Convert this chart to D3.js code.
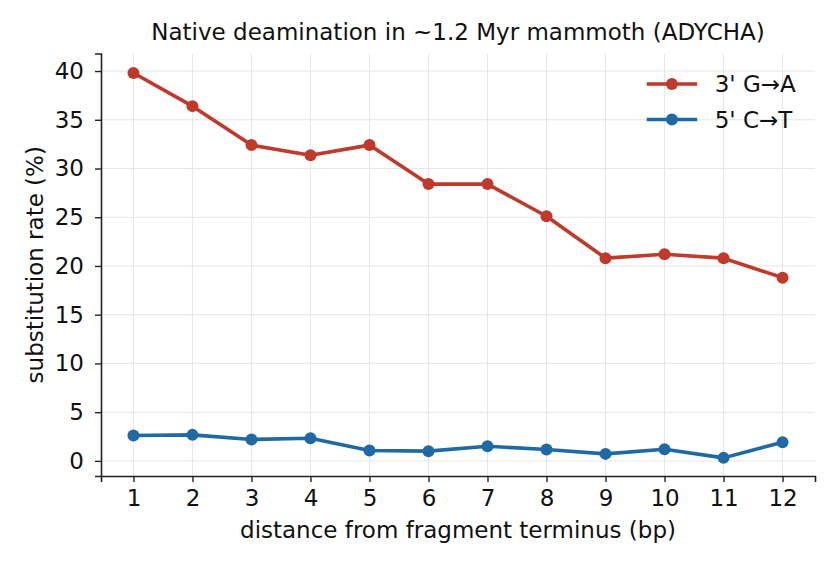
<!DOCTYPE html>
<html>
<head>
<meta charset="utf-8">
<script src="https://cdn.jsdelivr.net/npm/d3@7"></script>
<style>
  body { margin: 0; background: #fff; }
  svg { font-family: "DejaVu Sans", sans-serif; }
</style>
</head>
<body>
<svg width="840" height="570"></svg>
<script>
// ---- Data
const positions = [1, 2, 3, 4, 5, 6, 7, 8, 9, 10, 11, 12];
const gaRates = [39.8, 36.4, 32.4, 31.35, 32.4, 28.4, 28.4, 25.1, 20.8, 21.2, 20.8, 18.8];
const ctRates = [2.6, 2.67, 2.2, 2.33, 1.07, 1.0, 1.5, 1.17, 0.72, 1.2, 0.31, 1.92];
const yTicks = [0, 5, 10, 15, 20, 25, 30, 35, 40];
const seriesNames = ["3' G\u2192A", "5' C\u2192T"];

const series = [
    { name: seriesNames[0], values: gaRates, color: '#c0392b' },
    { name: seriesNames[1], values: ctRates, color: '#1f6aa5' }
];

const fontSize = '23px';

const svg = d3.select('svg');
const margin = { left: 101, right: 25, top: 53.5, bottom: 94 };
const width = 840 - margin.left - margin.right;
const height = 570 - margin.top - margin.bottom;

const x = d3.scaleLinear().domain([0.45, 12.55]).range([0, width]);
const y = d3.scaleLinear().domain([-1.55, 41.8]).range([height, 0]);

const g = svg.append('g')
    .attr('transform', `translate(${margin.left},${margin.top})`);

// ---- Grid
g.append('g').selectAll('line')
    .data(positions)
    .join('line')
    .attr('x1', d => x(d)).attr('x2', d => x(d))
    .attr('y1', 0).attr('y2', height)
    .attr('stroke', '#e6e6e6').attr('stroke-width', 1);

g.append('g').selectAll('line')
    .data(yTicks)
    .join('line')
    .attr('x1', 0).attr('x2', width)
    .attr('y1', d => y(d)).attr('y2', d => y(d))
    .attr('stroke', '#e6e6e6').attr('stroke-width', 1);

// ---- Axes
const xAxis = g.append('g')
    .attr('transform', `translate(0,${height})`)
    .call(d3.axisBottom(x).tickValues(positions).tickFormat(d3.format('d')).tickSizeOuter(0).tickSize(6).tickPadding(8));

const yAxis = g.append('g')
    .call(d3.axisLeft(y).tickValues(yTicks).tickSizeOuter(0).tickSize(6).tickPadding(11));

[xAxis, yAxis].forEach(a => {
    a.select('.domain').attr('stroke', '#222').attr('stroke-width', 1.6);
    a.selectAll('.tick line').attr('stroke', '#222').attr('stroke-width', 1.4);
    a.selectAll('.tick text')
        .attr('fill', '#111')
        .style('font-size', fontSize)
        .style('font-family', '"DejaVu Sans", sans-serif');
});

// ---- Lines
const line = d3.line()
    .x((d, i) => x(positions[i]))
    .y(d => y(d));

series.forEach(s => {
    g.append('path')
        .datum(s.values)
        .attr('d', line)
        .attr('fill', 'none')
        .attr('stroke', s.color)
        .attr('stroke-width', 3.6)
        .attr('stroke-linejoin', 'round');

    g.append('g').selectAll('circle')
        .data(s.values)
        .join('circle')
        .attr('cx', (d, i) => x(positions[i]))
        .attr('cy', d => y(d))
        .attr('r', 6)
        .attr('fill', s.color);
});

// ---- Legend
const legend = g.append('g')
    .attr('transform', `translate(${width - 168.3},${30.5})`);

series.forEach((s, i) => {
    const row = legend.append('g').attr('transform', `translate(0,${i * 35.5})`);
    row.append('line')
        .attr('x1', 0).attr('x2', 50.5)
        .attr('stroke', s.color).attr('stroke-width', 3.6);
    row.append('circle')
        .attr('cx', 25.2).attr('r', 6).attr('fill', s.color);
    row.append('text')
        .attr('x', 68).attr('dy', '0.35em')
        .style('font-size', fontSize)
        .attr('fill', '#111')
        .text(s.name);
});

// ---- Labels
svg.append('text')
    .attr('x', margin.left + width / 2)
    .attr('y', 40)
    .attr('text-anchor', 'middle')
    .style('font-size', fontSize)
    .attr('fill', '#111')
    .text('Native deamination in ~1.2 Myr mammoth (ADYCHA)');

svg.append('text')
    .attr('x', margin.left + width / 2)
    .attr('y', 538)
    .attr('text-anchor', 'middle')
    .style('font-size', fontSize)
    .attr('fill', '#111')
    .text('distance from fragment terminus (bp)');

svg.append('text')
    .attr('transform', `translate(43,${margin.top + height / 2}) rotate(-90)`)
    .attr('text-anchor', 'middle')
    .style('font-size', fontSize)
    .attr('fill', '#111')
    .text('substitution rate (%)');
</script>
</body>
</html>
